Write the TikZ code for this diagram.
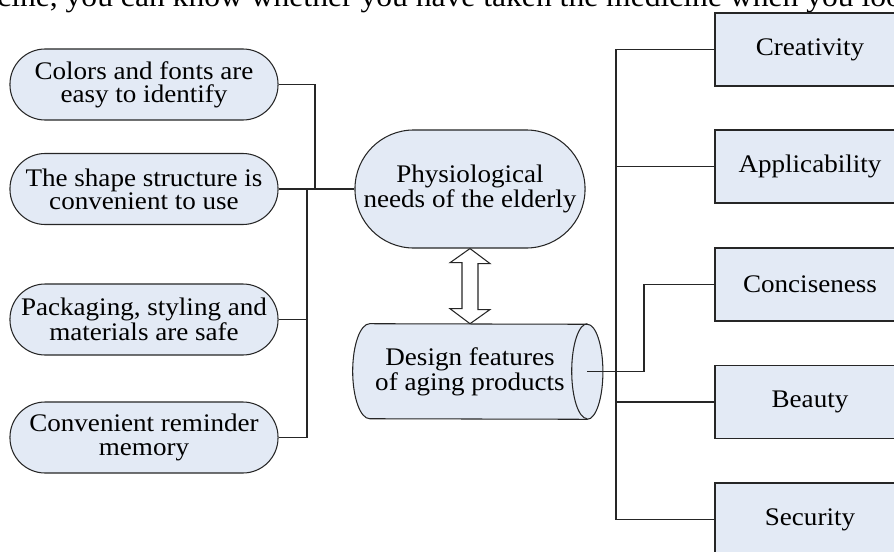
\documentclass[tikz,border=0pt]{standalone}
\usepackage{fontspec}
\setmainfont{Liberation Serif}[FakeStretch=1.07]
\usetikzlibrary{backgrounds}
\definecolor{boxfill}{HTML}{E3EAF5}
\definecolor{linecol}{HTML}{262626}
\newcommand\dlabelfont{\fontsize{18pt}{16.5pt}\selectfont}
\newcommand\dtopfont{\fontsize{21pt}{22pt}\selectfont}
\tikzset{
  conn/.style={draw=linecol, line width=0.75pt},
  oval/.style={draw=linecol, line width=0.75pt, fill=boxfill, rectangle,
    rounded corners=0.88cm, minimum width=6.7cm, minimum height=1.775cm,
    inner sep=0pt, align=center, font=\dlabelfont},
  rbox/.style={draw=linecol, line width=0.75pt, fill=boxfill, rectangle,
    minimum width=4.75cm, minimum height=1.825cm, inner sep=0pt,
    align=center, font=\dlabelfont},
}
\begin{document}
\begin{tikzpicture}[x=0.025cm,y=-0.025cm]
\useasboundingbox (0,0) rectangle (894,552);
\clip (0,0) rectangle (894,552);
% cut-off running text at the top
\node[anchor=base west, inner sep=0pt, font=\dtopfont] (toptext) at (-3,6.5)
  {cine, you can know whether you have taken the medicine when you loo};
% left ovals
\node[oval] (b1) at (144,84.5) {Colors and fonts are\\easy to identify};
\node[oval] (b2) at (144,189) {The shape structure is\\convenient to use};
\node[oval] (b3) at (144,319.5) {Packaging, styling and\\materials are safe};
\node[oval] (b4) at (144,437.5) {Convenient reminder\\memory};
% centre
\node[oval, minimum width=5.75cm, minimum height=2.95cm, rounded corners=1.47cm] (phys) at (470,189) {Physiological\\needs of the elderly};
\node[inner sep=0pt, minimum width=5.85cm, minimum height=2.375cm, align=center, font=\dlabelfont] (design) at (470,371.5) {Design features\\of aging products};
\begin{scope}[on background layer]
\draw[conn, fill=boxfill] ([xshift=0.425cm]design.north west)
  arc[start angle=90, end angle=270, x radius=0.425cm, y radius=1.1875cm]
  -- (design.south east)
  arc[start angle=-90, end angle=90, x radius=0.39cm, y radius=1.1875cm]
  -- cycle;
\draw[conn] (design.north east)
  arc[start angle=90, end angle=270, x radius=0.39cm, y radius=1.1875cm];
\end{scope}
% double arrow
\draw[conn, fill=white] (phys.south) -- ++(20,15) -- ++(-12,0) -- ++(0,46) -- ++(12,0)
  -- (design.north) -- ++(-20,-15) -- ++(12,0) -- ++(0,-46) -- ++(-12,0) -- cycle;
% right boxes
\node[rbox] (r1) at (810,49.5) {Creativity};
\node[rbox] (r2) at (810,166.5) {Applicability};
\node[rbox] (r3) at (810,284.5) {Conciseness};
\node[rbox] (r4) at (810,402) {Beauty};
\node[rbox] (r5) at (810,519.5) {Security};
% left connectors
\coordinate (jl1) at (315,189);
\coordinate (jl2) at (307,189);
\draw[conn] (b1.east) -| (jl1);
\draw[conn] (b2.east) -- (phys.west);
\draw[conn] (b3.east) -| (jl2);
\draw[conn] (b4.east) -| (jl2);
% right connectors
\coordinate (tr) at (616,371.5);
\coordinate (cz) at (644,371.5);
\draw[conn] (r1.west) -| (tr);
\draw[conn] (r2.west) -| (tr);
\draw[conn] (r4.west) -| (tr);
\draw[conn] (r5.west) -| (tr);
\draw[conn] (design.east) -- (tr);
\draw[conn] (r3.west) -| (cz) -- (tr);
\end{tikzpicture}
\end{document}
